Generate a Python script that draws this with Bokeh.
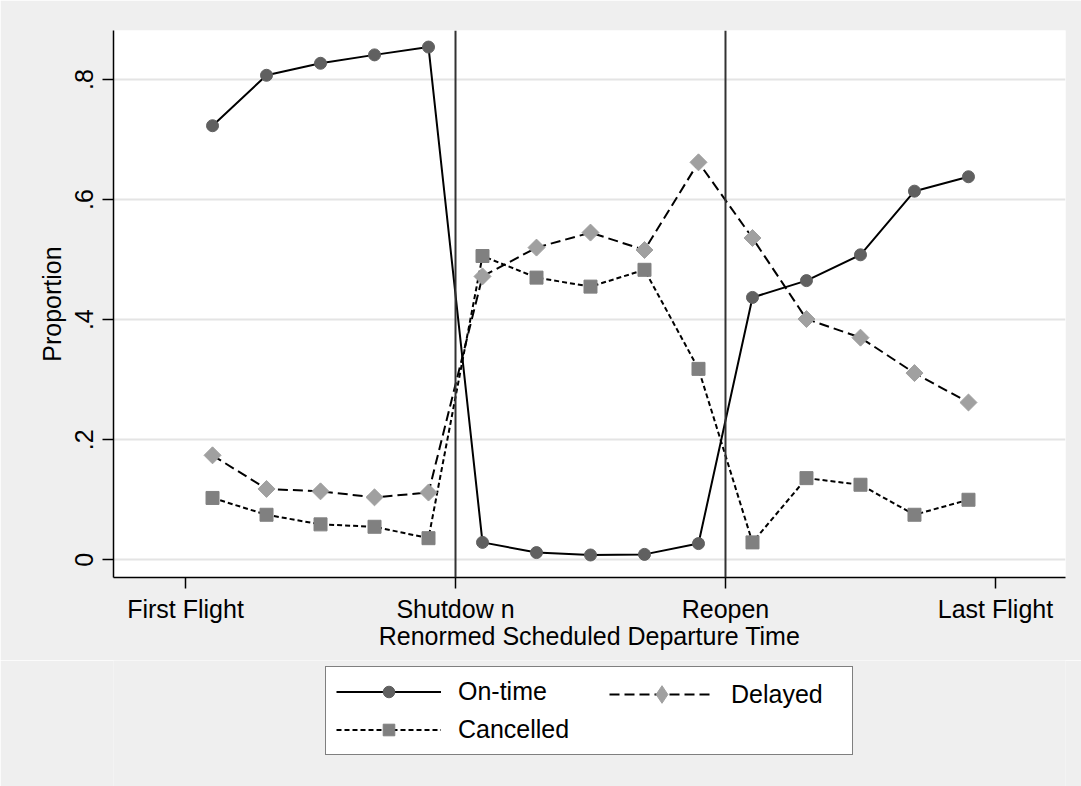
import numpy as np
from bokeh.plotting import figure
from bokeh.layouts import column
from bokeh.models import (Range1d, FixedTicker, Span, Legend, LegendItem,
                          ColumnDataSource)
from bokeh.embed import file_html
from bokeh.resources import INLINE

# ---------------- data ----------------
x_bins = [0.5, 1.5, 2.5, 3.5, 4.5, 5.5, 6.5, 7.5, 8.5, 9.5,
          10.5, 11.5, 12.5, 13.5, 14.5]
on_time = [0.723, 0.807, 0.827, 0.841, 0.854, 0.029, 0.012, 0.008, 0.009, 0.027,
           0.437, 0.465, 0.508, 0.614, 0.638]
delayed = [0.174, 0.118, 0.114, 0.104, 0.112, 0.472, 0.520, 0.545, 0.516, 0.662,
           0.536, 0.401, 0.370, 0.311, 0.262]
cancelled = [0.103, 0.075, 0.059, 0.055, 0.036, 0.506, 0.470, 0.455, 0.483, 0.318,
             0.029, 0.136, 0.125, 0.075, 0.100]

x_tick_pos = [0, 5, 10, 15]
x_tick_labels = ["First Flight", "Shutdow n", "Reopen", "Last Flight"]
event_x = [5, 10]
y_tick_pos = [0, 0.2, 0.4, 0.6, 0.8]
y_tick_labels = ["0", ".2", ".4", ".6", ".8"]

FONT = "Liberation Sans"
FS = "25px"
BG = "#efefef"
W = 1081
H_TOP = 660
H_LEG = 126

p = figure(width=W, height=H_TOP, output_backend="svg", toolbar_location=None,
           x_range=Range1d(-1.334, 16.297), y_range=Range1d(-0.0295, 0.8816),
           min_border_left=113, min_border_right=16, min_border_top=30,
           min_border_bottom=H_TOP - 577)
p.background_fill_color = "white"
p.border_fill_color = BG
p.outline_line_color = None

# axes
p.xaxis.ticker = FixedTicker(ticks=x_tick_pos)
p.xaxis.major_label_overrides = {t: l for t, l in zip(x_tick_pos, x_tick_labels)}
p.yaxis.ticker = FixedTicker(ticks=y_tick_pos)
p.yaxis.major_label_overrides = {t: l for t, l in zip(y_tick_pos, y_tick_labels)}
p.yaxis.major_label_orientation = "vertical"
p.xaxis.axis_label = "Renormed Scheduled Departure Time"
p.yaxis.axis_label = "Proportion"
for ax in (p.xaxis, p.yaxis):
    ax.axis_line_color = "black"
    ax.axis_line_width = 1.5
    ax.major_tick_line_color = "black"
    ax.major_tick_line_width = 1.5
    ax.major_tick_out = 11
    ax.major_tick_in = 0
    ax.minor_tick_out = 0
    ax.minor_tick_in = 0
    ax.major_label_text_font = FONT
    ax.major_label_text_font_size = FS
    ax.major_label_text_color = "black"
    ax.axis_label_text_font = FONT
    ax.axis_label_text_font_size = FS
    ax.axis_label_text_font_style = "normal"
    ax.axis_label_text_color = "black"
p.xaxis.major_label_standoff = 6
p.xaxis.axis_label_standoff = -4
p.yaxis.major_label_standoff = 9
p.yaxis.axis_label_standoff = 7

p.xgrid.grid_line_color = None
p.ygrid.ticker = FixedTicker(ticks=y_tick_pos)
p.ygrid.grid_line_color = "#e4e4e4"
p.ygrid.grid_line_width = 2

for xv in event_x:
    p.add_layout(Span(location=xv, dimension="height", line_color="#333333",
                      line_width=2))

src = ColumnDataSource(dict(x=x_bins, on=on_time, de=delayed, ca=cancelled))

STY_ON = dict(line=dict(line_color="black", line_width=2),
              mark=dict(marker="circle", size=12, fill_color="#606060",
                        line_color="#606060"))
STY_DE = dict(line=dict(line_color="black", line_width=2, line_dash="10 5"),
              mark=dict(marker="square", size=12, angle=np.pi / 4,
                        fill_color="#a0a0a0", line_color="#a0a0a0"))
STY_CA = dict(line=dict(line_color="black", line_width=2, line_dash="5 3"),
              mark=dict(marker="square", size=13, fill_color="#808080",
                        line_color="#808080"))

p.line("x", "on", source=src, **STY_ON["line"])
p.line("x", "de", source=src, **STY_DE["line"])
p.line("x", "ca", source=src, **STY_CA["line"])
p.scatter("x", "on", source=src, **STY_ON["mark"])
p.scatter("x", "de", source=src, **STY_DE["mark"])
p.scatter("x", "ca", source=src, **STY_CA["mark"])

# ---------------- legend strip (same grey region) ----------------
q = figure(width=W, height=H_LEG, output_backend="svg", toolbar_location=None,
           x_range=Range1d(0, 1), y_range=Range1d(0, 1),
           x_axis_type=None, y_axis_type=None,
           min_border_left=0, min_border_right=0, min_border_top=0,
           min_border_bottom=0)
q.background_fill_color = BG
q.border_fill_color = BG
q.outline_line_color = None

k_on_l = q.line("x", "on", source=src, visible=False, **STY_ON["line"])
k_on_m = q.scatter("x", "on", source=src, visible=False, **STY_ON["mark"])
k_ca_l = q.line("x", "ca", source=src, visible=False, **STY_CA["line"])
k_ca_m = q.scatter("x", "ca", source=src, visible=False, **STY_CA["mark"])
k_de_l = q.line("x", "de", source=src, visible=False, **STY_DE["line"])
k_de_m = q.scatter("x", "de", source=src, visible=False, marker="diamond",
                   fill_color="#a0a0a0", line_color="#a0a0a0")

common = dict(label_text_font=FONT, label_text_font_size=FS,
              label_text_color="black", label_standoff=17,
              glyph_width=105, padding=10, spacing=9, margin=0,
              inactive_fill_alpha=0.0)

legend_a = Legend(items=[LegendItem(label="On-time", renderers=[k_on_l, k_on_m]),
                         LegendItem(label="Cancelled", renderers=[k_ca_l, k_ca_m])],
                  orientation="vertical", location=(212, 31),
                  glyph_height=29, label_width=384,
                  border_line_color="black", border_line_width=1.5,
                  background_fill_color="white", background_fill_alpha=1.0,
                  **common)
legend_b = Legend(items=[LegendItem(label="Delayed", renderers=[k_de_l, k_de_m])],
                  orientation="vertical", location=(496, 70),
                  glyph_height=44, label_width=20,
                  border_line_color=None, background_fill_alpha=0.0,
                  **common)
q.add_layout(legend_a)
q.add_layout(legend_b)

layout = column(p, q, spacing=0)
open("out.html", "w").write(file_html(layout, INLINE))
